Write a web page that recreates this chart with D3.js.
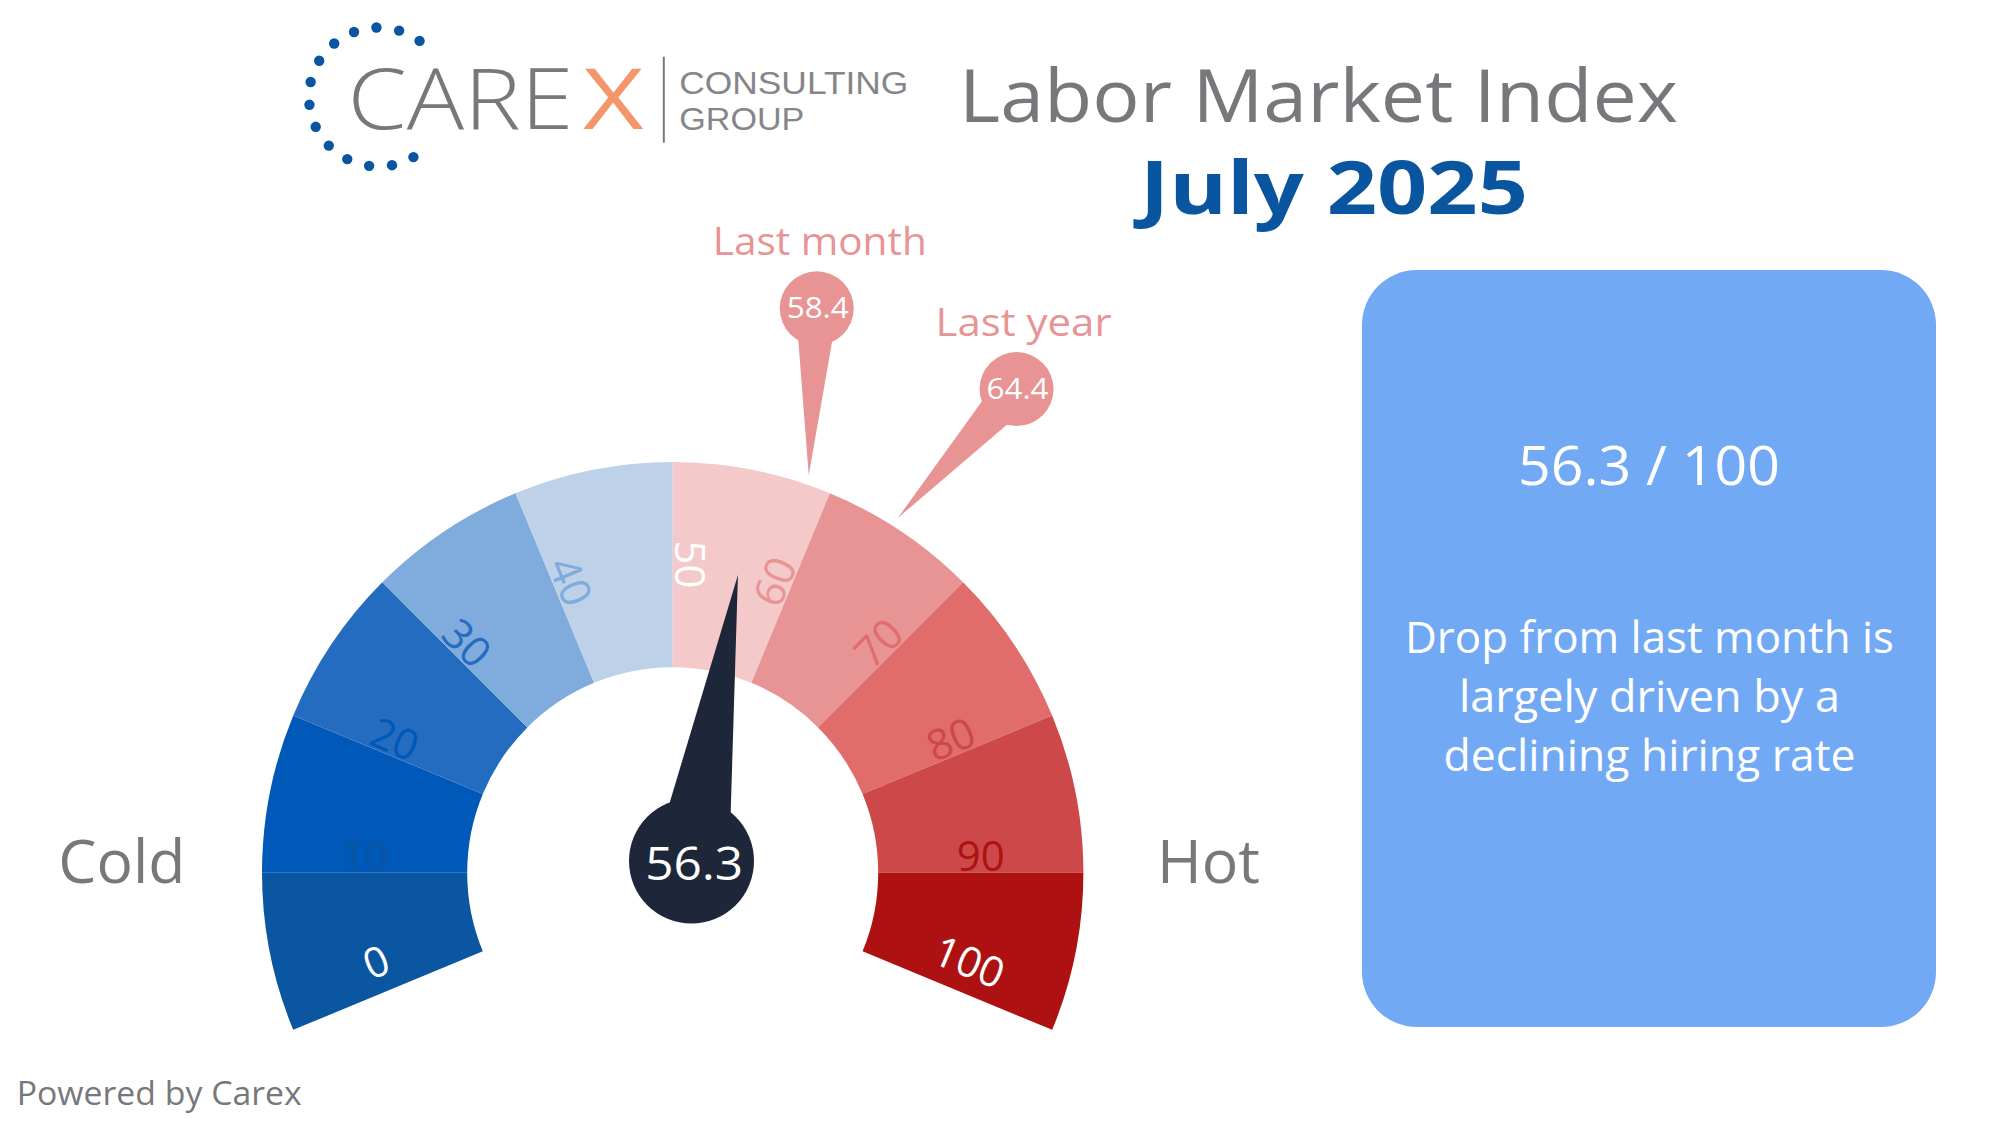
<!DOCTYPE html>
<html><head><meta charset="utf-8">
<script src="https://cdn.jsdelivr.net/npm/d3@7"></script>
<style>html,body{margin:0;padding:0;background:#fff;} svg{display:block;}</style>
</head><body>
<svg id="chart" width="2000" height="1125"></svg>
<script>
// ---------------- data ----------------
const tickValues = [0, 10, 20, 30, 40, 50, 60, 70, 80, 90, 100];
const bandBreaks = [0, 10, 20, 30, 40, 50, 60, 70, 80, 90, 100];
const bandColors = ["#0b56a0", "#0058b9", "#236cc0", "#7fabdd", "#bdd1e9",
                    "#f3c9c9", "#e89494", "#e16c6c", "#cd4848", "#ad1111"];
const currentValue = 56.3;
const scaleMax = 100;
const markerLabels = ["Last month", "Last year"];
const markerValues = [58.4, 64.4];
const endLabels = ["Cold", "Hot"];
const titleLines = ["Labor Market Index", "July 2025"];
const summaryLines = ["Drop from last month is", "largely driven by a", "declining hiring rate"];

// ---------------- layout ----------------
const FONT = "'Open Sans', 'Noto Sans', sans-serif";
const GREY = "#77787b", NAVY = "#1e2639", PIN = "#e89494", BRAND = "#0a55a0";
const svg = d3.select("#chart");
const cx = 672.7, cy = 872.7, rOuter = 410.7, rInner = 205.5;
const deg = Math.PI / 180;
const angle = d3.scaleLinear().domain([0, scaleMax]).range([-112.5 * deg, 112.5 * deg]);

function fit(sel, w) { return sel.attr("textLength", w).attr("lengthAdjust", "spacingAndGlyphs"); }

// ---------------- logo ----------------
const logo = svg.append("g");
const dotAngles = d3.range(14).map(i => (36.2 - i * 18.95) * deg);
logo.selectAll("circle").data(dotAngles).join("circle")
  .attr("cx", a => 378.5 + 69.5 * Math.sin(a))
  .attr("cy", a => 97 - 69.5 * Math.cos(a))
  .attr("r", 5.2).attr("fill", BRAND);
fit(logo.append("text").attr("x", 347.4).attr("y", 129)
  .attr("font-family", FONT).attr("font-weight", 300).attr("font-size", 84)
  .attr("fill", GREY).text("CARE"), 226);
logo.append("text").attr("transform", "translate(583,129) scale(1.25,1)")
  .attr("font-family", FONT).attr("font-weight", 400).attr("font-size", 84)
  .attr("fill", "#f4956a").text("X");
logo.append("line").attr("x1", 663.8).attr("x2", 663.8).attr("y1", 56.7).attr("y2", 142.7)
  .attr("stroke", GREY).attr("stroke-width", 2);
const LOGO_FONT = "'Liberation Sans', Arial, sans-serif";
fit(logo.append("text").attr("x", 679.3).attr("y", 93.5)
  .attr("font-family", LOGO_FONT).attr("font-size", 32).attr("fill", "#858689")
  .text("CONSULTING"), 229);
fit(logo.append("text").attr("x", 679.3).attr("y", 129.5)
  .attr("font-family", LOGO_FONT).attr("font-size", 32).attr("fill", "#858689")
  .text("GROUP"), 125);

// ---------------- titles ----------------
fit(svg.append("text").attr("x", 1318.5).attr("y", 121.7).attr("text-anchor", "middle")
  .attr("font-family", FONT).attr("font-size", 74).attr("fill", GREY)
  .text(titleLines[0]), 719);
fit(svg.append("text").attr("x", 1334).attr("y", 214).attr("text-anchor", "middle")
  .attr("font-family", FONT).attr("font-weight", 700).attr("font-size", 73).attr("fill", BRAND)
  .text(titleLines[1]), 388);

// ---------------- gauge bands ----------------
const arc = d3.arc().innerRadius(rInner).outerRadius(rOuter);
const gauge = svg.append("g").attr("transform", `translate(${cx},${cy})`);
gauge.selectAll("path.band").data(d3.pairs(bandBreaks)).join("path")
  .attr("class", "band")
  .attr("d", d => arc({ startAngle: angle(d[0]), endAngle: angle(d[1]) }))
  .attr("fill", (d, i) => bandColors[i]);

// tick labels
const labelR = (rInner + rOuter) / 2;
function tickColor(v, i) {
  if (v === 0 || v === scaleMax / 2 || v === scaleMax) return "#ffffff";
  return v < scaleMax / 2 ? bandColors[i - 1] : bandColors[i];
}
gauge.selectAll("text.tick").data(tickValues).join("text")
  .attr("class", "tick")
  .attr("transform", v => {
    const a = angle(v), d = a / deg;
    const rot = v <= scaleMax / 2 ? d + 90 : d - 90;
    return `translate(${labelR * Math.sin(a)},${-labelR * Math.cos(a)}) rotate(${rot})`;
  })
  .attr("y", v => (v === 0 || v === scaleMax) ? -16 : -2)
  .attr("text-anchor", "middle")
  .attr("font-family", FONT).attr("font-size", 42)
  .attr("fill", tickColor)
  .text(v => v);

// ---------------- markers (last month / last year) ----------------
const pinTipR = 420, pinR = 37, pinStemHalfW = 21;
const pinOffsets = [[8, -167], [118.8, -129]];
const pins = svg.append("g");
markerValues.forEach((v, i) => {
  const a = angle(v);
  const tx = cx + pinTipR * Math.sin(a), ty = cy - pinTipR * Math.cos(a);
  const bx = tx + pinOffsets[i][0], by = ty + pinOffsets[i][1];
  const dx = bx - tx, dy = by - ty, L = Math.hypot(dx, dy);
  const px = -dy / L * pinStemHalfW, py = dx / L * pinStemHalfW;
  pins.append("path")
    .attr("d", d3.line()([[tx, ty], [bx + px, by + py], [bx - px, by - py]]) + "Z")
    .attr("fill", PIN);
  pins.append("circle").attr("cx", bx).attr("cy", by).attr("r", pinR).attr("fill", PIN);
  fit(pins.append("text").attr("x", bx + 1).attr("y", by + 10).attr("text-anchor", "middle")
    .attr("font-family", FONT).attr("font-size", 29).attr("fill", "#fff")
    .text(d3.format(".1f")(v)), 62);
  fit(pins.append("text").attr("x", bx + (i === 0 ? 3 : 7)).attr("y", by - 53).attr("text-anchor", "middle")
    .attr("font-family", FONT).attr("font-size", 38).attr("fill", PIN)
    .text(markerLabels[i]), i === 0 ? 214 : 176);
});

// ---------------- needle ----------------
const hubX = 691.5, hubY = 861, hubR = 62.5;
const needleLen = 295, needleAspect = 0.643, needleHalfW = 38;
const nx = d3.scaleLinear().domain([-1, 1]).range([hubX - needleLen * needleAspect, hubX + needleLen * needleAspect]);
const ny = d3.scaleLinear().domain([-1, 1]).range([hubY + needleLen, hubY - needleLen]);
{
  const a = angle(currentValue);
  const tip = [nx(Math.sin(a)), ny(Math.cos(a))];
  const ux = tip[0] - hubX, uy = tip[1] - hubY, L = Math.hypot(ux, uy);
  const px = -uy / L * needleHalfW, py = ux / L * needleHalfW;
  svg.append("path")
    .attr("d", d3.line()([tip, [hubX + px, hubY + py], [hubX - px, hubY - py]]) + "Z")
    .attr("fill", NAVY);
  svg.append("circle").attr("cx", hubX).attr("cy", hubY).attr("r", hubR).attr("fill", NAVY);
  fit(svg.append("text").attr("x", hubX + 2.7).attr("y", hubY + 19).attr("text-anchor", "middle")
    .attr("font-family", FONT).attr("font-size", 45).attr("fill", "#fff")
    .text(d3.format(".1f")(currentValue)), 98);
}

// ---------------- Cold / Hot ----------------
fit(svg.append("text").attr("x", 58.3).attr("y", 883.3)
  .attr("font-family", FONT).attr("font-size", 61).attr("fill", GREY).text(endLabels[0]), 127);
fit(svg.append("text").attr("x", 1157).attr("y", 883.3)
  .attr("font-family", FONT).attr("font-size", 61).attr("fill", GREY).text(endLabels[1]), 103);

// ---------------- summary box ----------------
svg.append("rect").attr("x", 1362).attr("y", 270).attr("width", 574).attr("height", 757)
  .attr("rx", 55).attr("ry", 55).attr("fill", "#72a9f5");
fit(svg.append("text").attr("x", 1649).attr("y", 485).attr("text-anchor", "middle")
  .attr("font-family", FONT).attr("font-size", 55).attr("fill", "#fff")
  .text(`${d3.format(".1f")(currentValue)} / ${scaleMax}`), 262);
const lineWidths = [489, 381, 412];
summaryLines.forEach((t, i) => {
  fit(svg.append("text").attr("x", 1649.5).attr("y", 652.7 + i * 59).attr("text-anchor", "middle")
    .attr("font-family", FONT).attr("font-size", 43).attr("fill", "#fff").text(t), lineWidths[i]);
});

// ---------------- footer ----------------
fit(svg.append("text").attr("x", 16.7).attr("y", 1105)
  .attr("font-family", FONT).attr("font-size", 32).attr("fill", GREY).text("Powered by Carex"), 285);
</script>
</body></html>
